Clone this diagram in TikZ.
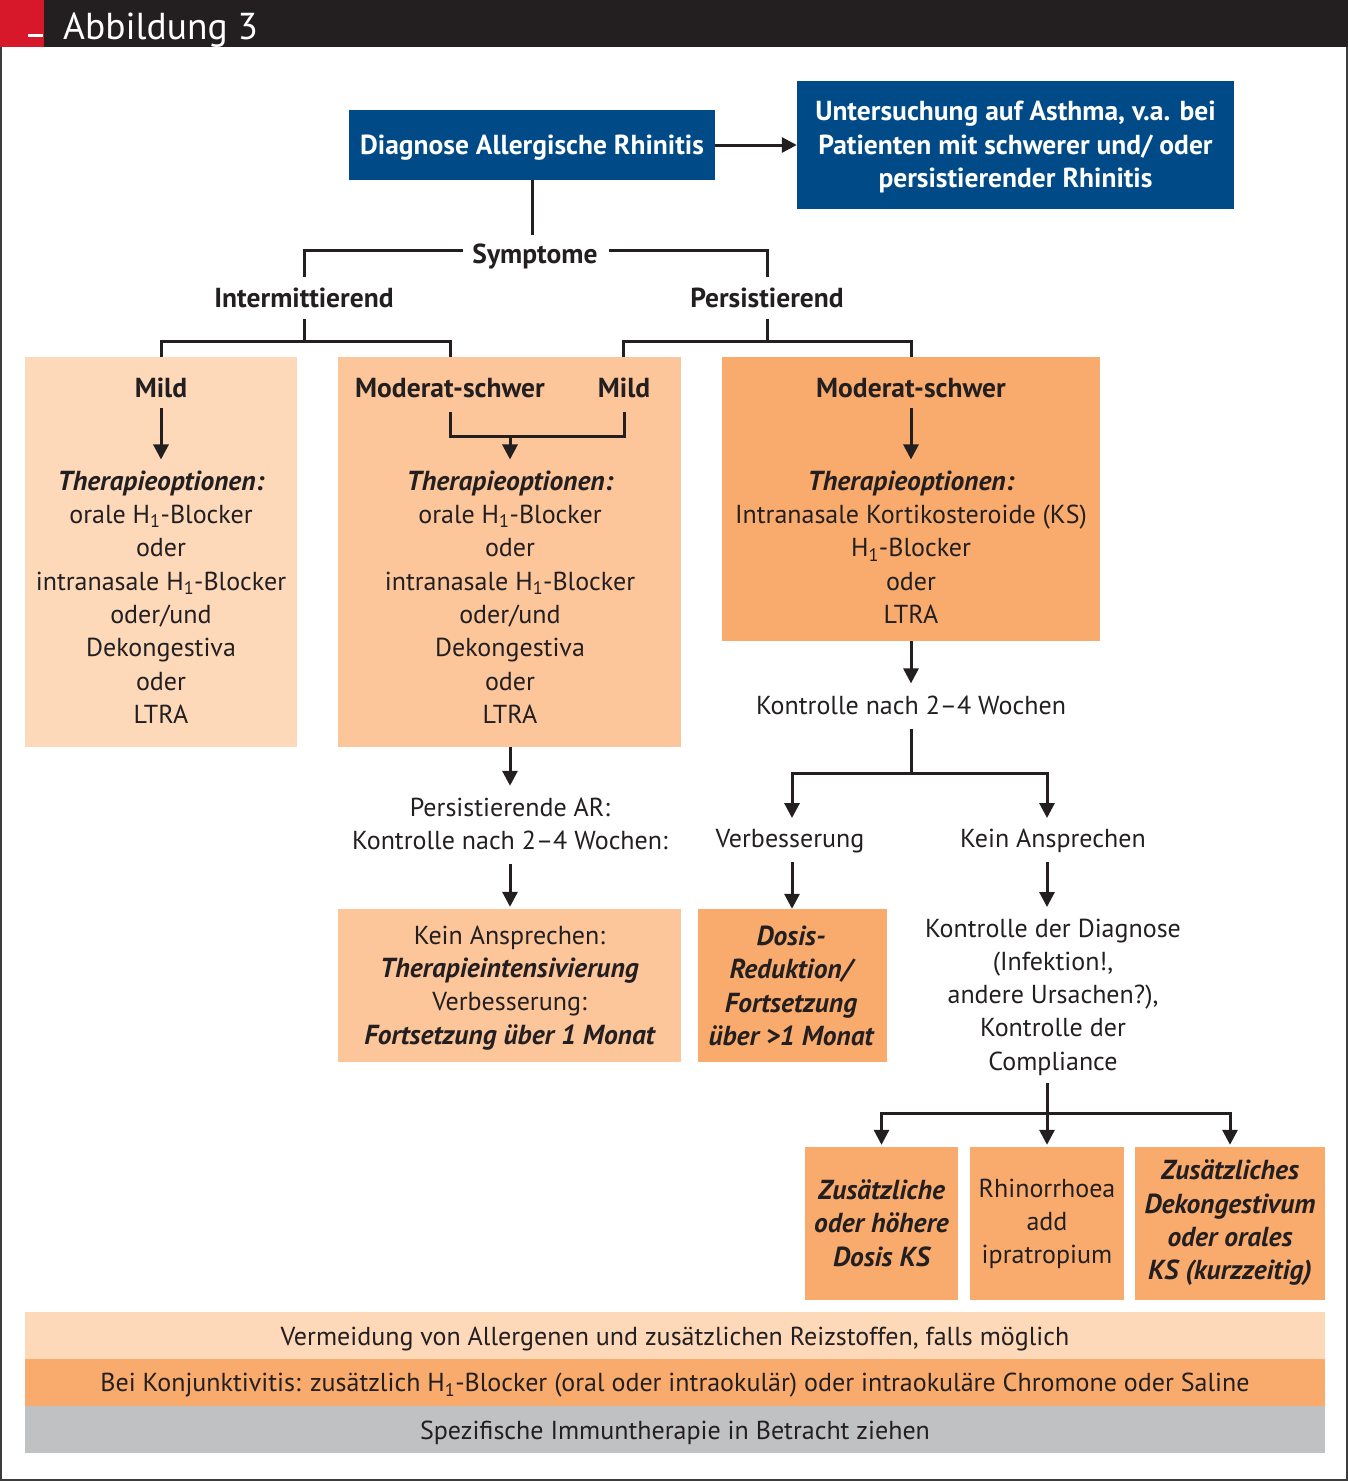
\documentclass[tikz,border=0pt]{standalone}
\usepackage{fontspec}
\setmainfont{PT Sans}
\usetikzlibrary{arrows.meta}
\definecolor{blueC}{RGB}{0,75,135}
\definecolor{lightC}{RGB}{253,217,186}
\definecolor{midC}{RGB}{252,197,154}
\definecolor{orangeC}{RGB}{249,171,110}
\definecolor{grayC}{RGB}{192,193,195}
\definecolor{inkC}{RGB}{35,31,32}
\definecolor{redC}{RGB}{215,24,42}
\definecolor{frameC}{RGB}{60,60,60}
\newcommand\fs{\fontsize{26}{33.3}\selectfont}
\newcommand\fb{\fontsize{27.5}{33.3}\selectfont\bfseries}
\newcommand\bi[1]{{\fb\itshape #1}}
\newcommand\Hone{H\textsubscript{1}}
\tikzset{
  line/.style={line width=3pt, draw=inkC},
  arr/.style={line, -{Triangle[length=15pt,width=15pt]}},
  box/.style={inner sep=0pt, draw=none},
  txt/.style={font=\fs, align=center, inner sep=0pt, text=inkC},
  btxt/.style={txt, font=\fb},
  bluetxt/.style={inner sep=0pt, text=white, font=\fb, align=center},
}
\begin{document}
\begin{tikzpicture}[x=1pt,y=-1pt]
\useasboundingbox (0,0) rectangle (1348,1481);
% frame and header
\draw[line width=2pt, draw=frameC] (1,1) rectangle (1347,1480);
\fill[inkC] (0,0) rectangle (1348,47);
\fill[redC] (0,0) rectangle (44,47);
\fill[white] (28,34) rectangle (43,37);
\node[anchor=base west, inner sep=0pt, text=white, font=\fontsize{37.5}{40}\selectfont] (title) at (63,39) {Abbildung 3};

% top blue boxes
\node[box, fill=blueC, minimum width=366, minimum height=70] (diag) at (532,145) {};
\node[box, fill=blueC, minimum width=437, minimum height=128] (unt) at (1015.5,145) {};
\node[bluetxt] (diagT) at (532,147.5) {Diagnose Allergische Rhinitis};
\node[bluetxt] (untT) at (1015.5,147) {Untersuchung auf Asthma, v.a. bei\\Patienten mit schwerer und/ oder\\persistierender Rhinitis};
\draw[arr] (diag.east) -- (unt.west);

% symptom tree
\node[btxt] (sym) at (535,256) {Symptome};
\node[btxt] (int) at (304,298) {Intermittierend};
\node[btxt] (pers) at (767,298) {Persistierend};
\coordinate (symL) at (463,250);
\coordinate (symR) at (609,250);
\draw[line] (diag.south) -- ++(0,55);
\draw[line, shorten >=11pt] (symL) -| (int.north);
\draw[line, shorten >=11pt] (symR) -| (pers.north);

% boxes
\node[box, fill=lightC, minimum width=272, minimum height=390] (A) at (161,552) {};
\node[box, fill=midC, minimum width=343, minimum height=390] (B) at (509.5,552) {};
\node[box, fill=orangeC, minimum width=378, minimum height=284] (C) at (911,499) {};
\node[box, fill=midC, minimum width=343, minimum height=153] (H) at (509.5,985.5) {};
\node[box, fill=orangeC, minimum width=189, minimum height=153] (D) at (792.5,985.5) {};
\node[box, fill=orangeC, minimum width=153, minimum height=153] (E) at (881.5,1223.5) {};
\node[box, fill=orangeC, minimum width=154, minimum height=153] (F) at (1047,1223.5) {};
\node[box, fill=orangeC, minimum width=190, minimum height=153] (G) at (1230,1223.5) {};
\node[box, fill=lightC, minimum width=1300, minimum height=47] (bar1) at (675,1335.5) {};
\node[box, fill=orangeC, minimum width=1300, minimum height=47] (bar2) at (675,1382.5) {};
\node[box, fill=grayC, minimum width=1300, minimum height=47] (bar3) at (675,1429.5) {};

% branches to boxes
\coordinate (intJ) at (304,341);
\coordinate (persJ) at (767,341);
\coordinate (Bin) at (450,357);
\coordinate (Bin2) at (623,357);
\draw[line, shorten <=11pt] (int.south) -- (intJ);
\draw[line] (A.north) |- (intJ) -| (Bin);
\draw[line, shorten <=11pt] (pers.south) -- (persJ);
\draw[line] (Bin2) |- (persJ) -| (C.north);

% box A
\node[btxt] (Amild) at (161,388) {Mild};
\node[txt] (Atx) at (161,597) {\bi{Therapieoptionen:}\\orale \Hone-Blocker\\oder\\intranasale \Hone-Blocker\\oder/und\\Dekongestiva\\oder\\LTRA};
\draw[arr, shorten <=10pt, shorten >=11pt] (Amild.south) -- (Amild.south |- Atx.north);

% box B
\node[btxt] (Bmod) at (450,388) {Moderat-schwer};
\node[btxt] (Bmild) at (624,388) {Mild};
\coordinate (Bj) at (510,436);
\node[txt] (Btx) at (510,597) {\bi{Therapieoptionen:}\\orale \Hone-Blocker\\oder\\intranasale \Hone-Blocker\\oder/und\\Dekongestiva\\oder\\LTRA};
\draw[line, shorten <=14pt] (Bmod.south) |- (Bj);
\draw[line, shorten >=14pt] (Bj) -| (Bmild.south);
\draw[arr, shorten >=11pt] (Bj) -- (Bj |- Btx.north);

% box C
\node[btxt] (Cmod) at (911,388) {Moderat-schwer};
\node[txt] (Ctx) at (911,547) {\bi{Therapieoptionen:}\\Intranasale Kortikosteroide (KS)\\\Hone-Blocker\\oder\\LTRA};
\draw[arr, shorten <=10pt, shorten >=11pt] (Cmod.south) -- (Ctx.north);

% persistierend: control
\node[txt] (kon) at (911,705) {Kontrolle nach 2–4 Wochen};
\draw[arr, shorten >=12pt] (C.south) -- (kon.north);
\coordinate (konJ) at (911,773);
\draw[line, shorten <=14pt] (kon.south) -- (konJ);
\node[txt] (verb) at (790,841.5) {Verbesserung};
\node[txt] (kein) at (1053,841) {Kein Ansprechen};
\coordinate (verbT) at (792,818);
\coordinate (keinT) at (1047,818);
\draw[arr] (konJ) -| (verbT);
\draw[arr] (konJ) -| (keinT);
\draw[arr] (verbT |- 0,862) -- (verbT |- D.north);
\node[txt] (Dtx) at (791,986) {\bi{Dosis-}\\\bi{Reduktion/}\\\bi{Fortsetzung}\\\bi{über >1 Monat}};

\node[txt] (kd) at (1053,997) {Kontrolle der Diagnose\\(Infektion!,\\andere Ursachen?),\\Kontrolle der\\Compliance};
\draw[arr] (keinT |- 0,862) -- (keinT |- 0,907);
\coordinate (kdJ) at (1047,1113);
\draw[line] (kdJ |- 0,1083) -- (kdJ);
\draw[arr] (kdJ) -| ([yshift=2pt]E.north);
\draw[arr] (kdJ) -- ([yshift=2pt]F.north);
\draw[arr] (kdJ) -| ([yshift=2pt]G.north);
\node[txt] (Etx) at (881.5,1223) {\bi{Zusätzliche}\\\bi{oder höhere}\\\bi{Dosis KS}};
\node[txt] (Ftx) at (1047,1224) {Rhinorrhoea\\add\\ipratropium};
\node[txt] (Gtx) at (1230,1223) {\bi{Zusätzliches}\\\bi{Dekongestivum}\\\bi{oder orales}\\\bi{KS (kurzzeitig)}};

% intermittent moderate: control
\node[txt] (pAR) at (510,824) {Persistierende AR:\\Kontrolle nach 2–4 Wochen:};
\draw[arr, shorten >=12pt] (pAR.north |- B.south) -- (pAR.north);
\draw[arr, shorten <=14pt] (pAR.south) -- ([yshift=2pt]pAR.south |- H.north);
\node[txt] (Htx) at (509.5,988) {Kein Ansprechen:\\\bi{Therapieintensivierung}\\Verbesserung:\\\bi{Fortsetzung über 1 Monat}};

% bars text
\node[txt] (bar1T) at ([yshift=-3pt]bar1.center) {Vermeidung von Allergenen und zusätzlichen Reizstoffen, falls möglich};
\node[txt] (bar2T) at ([yshift=-3pt]bar2.center) {Bei Konjunktivitis: zusätzlich \Hone-Blocker (oral oder intraokulär) oder intraokuläre Chromone oder Saline};
\node[txt] (bar3T) at ([yshift=-3pt]bar3.center) {Spezifische Immuntherapie in Betracht ziehen};
\end{tikzpicture}
\end{document}
